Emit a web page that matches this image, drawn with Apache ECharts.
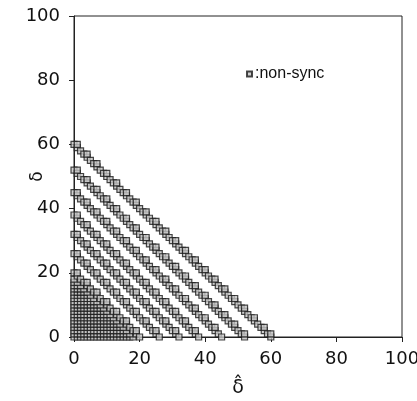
<!DOCTYPE html>
<html>
<head>
<meta charset="utf-8">
<script src="https://cdn.jsdelivr.net/npm/echarts@6/dist/echarts.min.js"></script>
<style>
  html, body { margin: 0; padding: 0; background: #fff; }
  #main { width: 417px; height: 401px; }
</style>
</head>
<body>
<div id="main"></div>
<script>
// axis ticks
var xTicks = [0, 20, 40, 60, 80, 100];
var yTicks = [0, 20, 40, 60, 80, 100];

// non-sync points along the diagonals, [delta_hat, delta]
var line60 = [[0,60],[1,59],[1,60],[2,58],[3,57],[4,56],[4,57],[5,55],[6,54],[7,53],[7,54],[8,52],[9,51],[10,50],[10,51],[11,49],[12,48],[13,47],[13,48],[14,46],[15,45],[16,44],[16,45],[17,43],[18,42],[19,41],[19,42],[20,40],[21,39],[22,38],[22,39],[23,37],[24,36],[25,35],[25,36],[26,34],[27,33],[28,32],[28,33],[29,31],[30,30],[31,29],[31,30],[32,28],[33,27],[34,26],[34,27],[35,25],[36,24],[37,23],[37,24],[38,22],[39,21],[40,20],[40,21],[41,19],[42,18],[43,17],[43,18],[44,16],[45,15],[46,14],[46,15],[47,13],[48,12],[49,11],[49,12],[50,10],[51,9],[52,8],[52,9],[53,7],[54,6],[55,5],[55,6],[56,4],[57,3],[58,2],[58,3],[59,1],[60,0],[60,1]];
var line52 = [[0,52],[1,51],[1,52],[2,50],[3,49],[4,48],[4,49],[5,47],[6,46],[7,45],[7,46],[8,44],[9,43],[10,42],[10,43],[11,41],[12,40],[13,39],[13,40],[14,38],[15,37],[16,36],[16,37],[17,35],[18,34],[19,33],[19,34],[20,32],[21,31],[22,30],[22,31],[23,29],[24,28],[25,27],[25,28],[26,26],[27,25],[28,24],[28,25],[29,23],[30,22],[31,21],[31,22],[32,20],[33,19],[34,18],[34,19],[35,17],[36,16],[37,15],[37,16],[38,14],[39,13],[40,12],[40,13],[41,11],[42,10],[43,9],[43,10],[44,8],[45,7],[46,6],[46,7],[47,5],[48,4],[49,3],[49,4],[50,2],[51,1],[52,0],[52,1]];
var line45 = [[0,45],[1,44],[1,45],[2,43],[3,42],[4,41],[4,42],[5,40],[6,39],[7,38],[7,39],[8,37],[9,36],[10,35],[10,36],[11,34],[12,33],[13,32],[13,33],[14,31],[15,30],[16,29],[16,30],[17,28],[18,27],[19,26],[19,27],[20,25],[21,24],[22,23],[22,24],[23,22],[24,21],[25,20],[25,21],[26,19],[27,18],[28,17],[28,18],[29,16],[30,15],[31,14],[31,15],[32,13],[33,12],[34,11],[34,12],[35,10],[36,9],[37,8],[37,9],[38,7],[39,6],[40,5],[40,6],[41,4],[42,3],[43,2],[43,3],[44,1],[45,0]];
var line38 = [[0,38],[1,37],[1,38],[2,36],[3,35],[4,34],[4,35],[5,33],[6,32],[7,31],[7,32],[8,30],[9,29],[10,28],[10,29],[11,27],[12,26],[13,25],[13,26],[14,24],[15,23],[16,22],[16,23],[17,21],[18,20],[19,19],[19,20],[20,18],[21,17],[22,16],[22,17],[23,15],[24,14],[25,13],[25,14],[26,12],[27,11],[28,10],[28,11],[29,9],[30,8],[31,7],[31,8],[32,6],[33,5],[34,4],[34,5],[35,3],[36,2],[37,1],[37,2],[38,0]];
var line32 = [[0,32],[1,31],[1,32],[2,30],[3,29],[4,28],[4,29],[5,27],[6,26],[7,25],[7,26],[8,24],[9,23],[10,22],[10,23],[11,21],[12,20],[13,19],[13,20],[14,18],[15,17],[16,16],[16,17],[17,15],[18,14],[19,13],[19,14],[20,12],[21,11],[22,10],[22,11],[23,9],[24,8],[25,7],[25,8],[26,6],[27,5],[28,4],[28,5],[29,3],[30,2],[31,1],[31,2],[32,0]];
var line26 = [[0,26],[1,25],[1,26],[2,24],[3,23],[4,22],[4,23],[5,21],[6,20],[7,19],[7,20],[8,18],[9,17],[10,16],[10,17],[11,15],[12,14],[13,13],[13,14],[14,12],[15,11],[16,10],[16,11],[17,9],[18,8],[19,7],[19,8],[20,6],[21,5],[22,4],[22,5],[23,3],[24,2],[25,1],[25,2],[26,0]];
var line20 = [[0,20],[1,19],[1,20],[2,18],[3,17],[4,16],[4,17],[5,15],[6,14],[7,13],[7,14],[8,12],[9,11],[10,10],[10,11],[11,9],[12,8],[13,7],[13,8],[14,6],[15,5],[16,4],[16,5],[17,3],[18,2],[19,1],[19,2],[20,0]];

// dense block near the origin: delta value of each row and its delta_hat values
var blockDelta = [0, 1, 2, 3, 4, 5, 6, 7, 8, 9, 10, 11, 12, 13, 14, 15, 16, 17, 18];
var blockHat = [
  [0,1,2,3,4,5,6,7,8,9,10,11,12,13,14,15,16,17,18],
  [0,1,2,3,4,5,6,7,8,9,10,11,12,13,14,15,16,17],
  [0,1,2,3,4,5,6,7,8,9,10,11,12,13,14,15,16],
  [0,1,2,3,4,5,6,7,8,9,10,11,12,13,14,15],
  [0,1,2,3,4,5,6,7,8,9,10,11,12,13,14],
  [0,1,2,3,4,5,6,7,8,9,10,11,12,13],
  [0,1,2,3,4,5,6,7,8,9,10,11,12],
  [0,1,2,3,4,5,6,7,8,9,10,11],
  [0,1,2,3,4,5,6,7,8,9,10],
  [0,1,2,3,4,5,6,7,8,9],
  [0,1,2,3,4,5,6,7,8],
  [0,1,2,3,4,5,6,7],
  [0,1,2,3,4,5,6],
  [0,1,2,3,4,5],
  [0,1,2,3,4],
  [0,1,2,3],
  [0,1,2],
  [0,1],
  [0]
];

var block = [];
for (var i = 0; i < blockDelta.length; i++) {
  for (var j = 0; j < blockHat[i].length; j++) {
    block.push([blockHat[i][j], blockDelta[i]]);
  }
}

var myChart = echarts.init(document.getElementById('main'));

var markStyle = {
  color: '#c4c4c4',
  borderColor: '#1a1a1a',
  borderWidth: 1.2
};

function scatter(data) {
  return {
    name: 'non-sync',
    type: 'scatter',
    symbol: 'rect',
    symbolSize: 6,
    itemStyle: markStyle,
    silent: true,
    animation: false,
    data: data
  };
}

var axisText = { color: '#111', fontSize: 18, fontFamily: 'DejaVu Sans' };

var option = {
  backgroundColor: '#fff',
  animation: false,
  grid: {
    left: 74,
    right: 15,
    top: 16,
    bottom: 64,
    outerBoundsMode: 'none',
    show: true,
    borderColor: '#222',
    borderWidth: 1
  },
  legend: {
    data: ['non-sync'],
    left: 241,
    top: 61,
    icon: 'rect',
    itemWidth: 5,
    itemHeight: 5,
    itemGap: 2,
    formatter: ':{name}',
    textStyle: { color: '#111', fontSize: 16, fontFamily: 'Liberation Sans', padding: [0, 0, 0, -2] }
  },
  xAxis: {
    type: 'value',
    min: 0,
    max: 100,
    interval: 20,
    name: 'δ̂',
    nameLocation: 'middle',
    nameGap: 42,
    nameMoveOverlap: false,
    nameTextStyle: { color: '#111', fontSize: 19, fontFamily: 'DejaVu Sans' },
    axisLine: { show: true, lineStyle: { color: '#222', width: 1 } },
    axisTick: { show: true, inside: false, length: 5, lineStyle: { color: '#222' } },
    axisLabel: {
      margin: 13,
      formatter: function (v) { return xTicks.indexOf(v) >= 0 ? String(v) : ''; },
      ...axisText
    },
    splitLine: { show: false }
  },
  yAxis: {
    type: 'value',
    min: 0,
    max: 100,
    interval: 20,
    name: 'δ',
    nameLocation: 'middle',
    nameGap: 28,
    nameRotate: 90,
    nameMoveOverlap: false,
    nameTextStyle: { color: '#111', fontSize: 17, fontFamily: 'DejaVu Sans' },
    axisLine: { show: true, lineStyle: { color: '#222', width: 1 } },
    axisTick: { show: true, inside: false, length: 5, lineStyle: { color: '#222' } },
    axisLabel: {
      margin: 14,
      formatter: function (v) { return yTicks.indexOf(v) >= 0 ? String(v) : ''; },
      ...axisText
    },
    splitLine: { show: false }
  },
  series: [
    scatter(block),
    scatter(line20),
    scatter(line26),
    scatter(line32),
    scatter(line38),
    scatter(line45),
    scatter(line52),
    scatter(line60)
  ]
};

myChart.setOption(option);
</script>
</body>
</html>
